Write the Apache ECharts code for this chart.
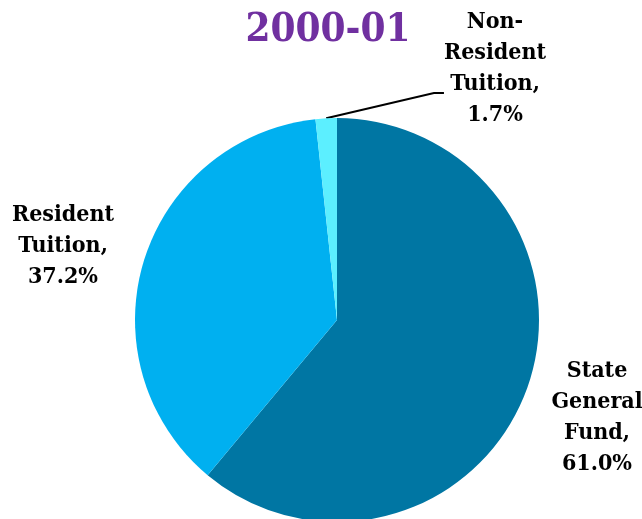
<!DOCTYPE html>
<html>
<head>
<meta charset="utf-8">
<script src="https://cdn.jsdelivr.net/npm/echarts@6/dist/echarts.min.js"></script>
<style>html,body{margin:0;padding:0;background:#fff;}#c{width:642px;height:519px;}</style>
</head>
<body>
<div id="c"></div>
<script>
var titleText = "2000-01";
var categories = ["State General Fund", "Resident Tuition", "Non-Resident Tuition"];
var labelLines = [["State", "General", "Fund,"], ["Resident", "Tuition,"], ["Non-", "Resident", "Tuition,"]];
var values = [61.0, 37.2, 1.7];
var colors = ["#0076A3", "#00B0F0", "#5CEFFF"];

var labelPos = [
  {x: 597, y: 418},
  {x: 63, y: 246},
  {x: 495, y: 93}
];

var FONT = "'DejaVu Serif Condensed', 'DejaVu Serif', serif";
var chart = echarts.init(document.getElementById('c'), null, {renderer: 'canvas'});
chart.setOption({
  animation: false,
  title: {
    text: titleText, left: 323, top: 6, textAlign: 'center',
    textStyle: {fontFamily: FONT, fontWeight: 'bold', fontSize: 40, color: '#7030A0'}
  },
  series: [{
    type: 'pie',
    center: [337, 320],
    radius: [0, 202],
    startAngle: 90,
    clockwise: true,
    data: categories.map(function (c, i) {
      return {
        name: c, value: values[i],
        itemStyle: {color: colors[i]},
        labelLine: {show: i === 2, length: 10, length2: 10, lineStyle: {color: '#000', width: 2}}
      };
    }),
    label: {
      show: true, position: 'outside', overflow: 'none',
      fontFamily: FONT, fontWeight: 'bold', fontSize: 23, color: '#000',
      lineHeight: 31, align: 'center',
      rich: {s: {lineHeight: 48, fontSize: 10}},
      formatter: function (p) {
        var t = labelLines[p.dataIndex].join('\n') + '\n' + p.value.toFixed(1) + '%';
        return p.dataIndex === 2 ? t + '\n{s| }' : t;
      }
    },
    labelLayout: function (p) {
      var lp = labelPos[p.dataIndex];
      return {x: lp.x, y: lp.y, align: 'center', verticalAlign: 'middle'};
    }
  }]
});
</script>
</body>
</html>
